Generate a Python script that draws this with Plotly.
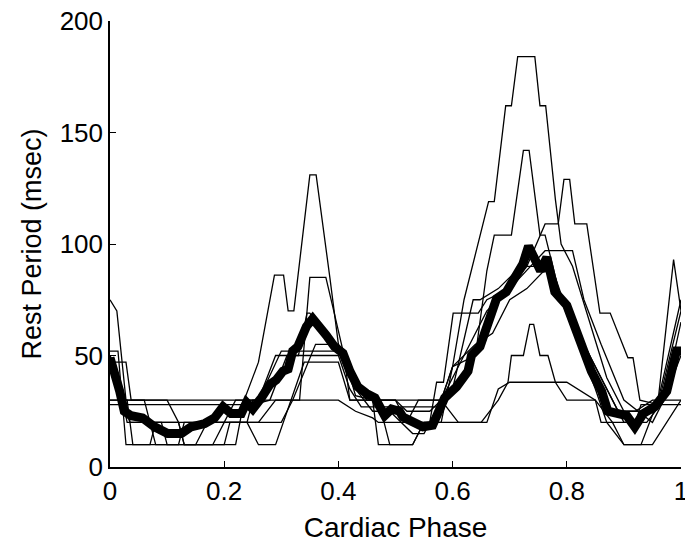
import plotly.graph_objects as go

# ---- data ----
x_ticks = [0, 0.2, 0.4, 0.6, 0.8, 1.0]
x_tick_labels = ["0", "0.2", "0.4", "0.6", "0.8", "1"]
y_ticks = [0, 50, 100, 150, 200]
y_tick_labels = ["0", "50", "100", "150", "200"]

l1_x = [0, 0.012, 0.028, 0.06, 0.07, 0.12, 0.13, 0.22, 0.235, 0.26, 0.288, 0.304, 0.312, 0.322, 0.35, 0.361, 0.385, 0.40, 0.41, 0.43, 0.46, 0.50, 0.52, 0.56, 0.58, 0.60, 0.62, 0.663, 0.673, 0.693, 0.703, 0.714, 0.744, 0.753, 0.763, 0.78, 0.79, 0.81, 0.84, 0.87, 0.90, 0.93, 0.96, 0.987, 1.0]
l1_y = [75, 70, 30, 30, 20, 20, 10, 10, 30, 47, 86, 86, 70, 70, 131, 131, 85, 55, 50, 32, 30, 30, 25, 25, 30, 45, 75, 119, 119, 162, 162, 184, 184, 162, 162, 120, 100, 90, 65, 40, 25, 25, 30, 93, 70]

l2_x = [0, 0.014, 0.028, 0.07, 0.08, 0.12, 0.13, 0.2, 0.21, 0.26, 0.29, 0.332, 0.35, 0.378, 0.39, 0.41, 0.42, 0.47, 0.49, 0.53, 0.55, 0.58, 0.60, 0.64, 0.66, 0.673, 0.703, 0.724, 0.734, 0.753, 0.762, 0.79, 0.82, 0.85, 0.87, 0.90, 0.93, 0.96, 1.0]
l2_y = [52, 52, 10, 10, 20, 20, 10, 10, 20, 20, 30, 30, 85, 85, 72, 50, 30, 30, 10, 10, 20, 20, 45, 50, 88, 104, 104, 142, 142, 104, 104, 75, 55, 35, 20, 10, 10, 30, 75]

l3_x = [0, 0.028, 0.037, 0.10, 0.12, 0.20, 0.22, 0.26, 0.29, 0.33, 0.345, 0.35, 0.375, 0.39, 0.41, 0.44, 0.47, 0.50, 0.52, 0.56, 0.572, 0.584, 0.601, 0.645, 0.66, 0.70, 0.73, 0.762, 0.785, 0.795, 0.805, 0.814, 0.835, 0.858, 0.876, 0.907, 0.916, 0.928, 0.96, 1.0]
l3_y = [47, 47, 30, 30, 20, 20, 30, 30, 50, 50, 69, 69, 60, 55, 50, 35, 30, 30, 20, 20, 38, 38, 69, 69, 75, 80, 90, 109, 109, 129, 129, 109, 109, 69, 69, 49, 49, 30, 28, 70]

l4_x = [0, 0.04, 0.24, 0.26, 0.30, 0.40, 0.42, 0.45, 0.55, 0.58, 0.62, 0.66, 0.70, 0.762, 0.81, 0.83, 0.86, 0.90, 0.95, 0.97, 1.0]
l4_y = [30, 30, 30, 30, 52, 52, 40, 30, 30, 30, 50, 70, 80, 97, 97, 75, 55, 30, 20, 30, 50]

l5_x = [0, 0.05, 0.18, 0.20, 0.25, 0.28, 0.31, 0.40, 0.42, 0.44, 0.50, 0.55, 0.58, 0.60, 0.636, 0.648, 0.68, 0.72, 0.76, 0.78, 0.80, 0.83, 0.86, 0.89, 0.92, 0.95, 1.0]
l5_y = [28, 28, 28, 28, 28, 30, 50, 50, 35, 27, 27, 27, 27, 35, 75, 75, 80, 90, 90, 80, 70, 55, 40, 25, 25, 30, 30]

l6_x = [0, 0.01, 0.03, 0.07, 0.08, 0.15, 0.17, 0.24, 0.26, 0.29, 0.34, 0.36, 0.40, 0.42, 0.46, 0.47, 0.53, 0.55, 0.60, 0.65, 0.68, 0.697, 0.703, 0.724, 0.735, 0.742, 0.753, 0.767, 0.78, 0.80, 0.85, 0.88, 0.9, 0.95, 1.0]
l6_y = [50, 45, 20, 20, 10, 10, 20, 20, 10, 10, 47, 47, 47, 30, 30, 10, 10, 20, 20, 20, 30, 38, 50, 50, 64, 64, 50, 50, 38, 30, 30, 20, 10, 10, 30]

l7_x = [0, 0.03, 0.04, 0.12, 0.13, 0.24, 0.25, 0.40, 0.43, 0.46, 0.47, 0.52, 0.54, 0.58, 0.61, 0.66, 0.68, 0.70, 0.80, 0.85, 0.86, 0.92, 0.93, 1.0]
l7_y = [30, 30, 10, 10, 20, 20, 30, 30, 25, 22, 20, 20, 30, 30, 20, 20, 35, 38, 38, 30, 20, 20, 28, 28]

l8_x = [0, 0.02, 0.035, 0.09, 0.10, 0.18, 0.20, 0.30, 0.32, 0.36, 0.40, 0.43, 0.46, 0.49, 0.53, 0.55, 0.58, 0.6, 0.64, 0.67, 0.70, 0.73, 0.76, 0.78, 0.80, 0.82, 0.85, 0.88, 0.90, 0.94, 0.97, 1.0]
l8_y = [50, 30, 20, 20, 10, 10, 20, 20, 30, 55, 55, 35, 25, 25, 15, 15, 30, 45, 55, 60, 75, 80, 88, 85, 70, 60, 45, 30, 20, 20, 30, 65]

mean_x = [0, 0.005, 0.017, 0.025, 0.037, 0.057, 0.078, 0.101, 0.125, 0.142, 0.166, 0.183, 0.198, 0.212, 0.23, 0.239, 0.25, 0.265, 0.28, 0.291, 0.303, 0.312, 0.32, 0.329, 0.344, 0.355, 0.364, 0.379, 0.393, 0.408, 0.42, 0.434, 0.449, 0.464, 0.481, 0.493, 0.507, 0.513, 0.548, 0.565, 0.586, 0.607, 0.627, 0.633, 0.648, 0.665, 0.677, 0.694, 0.723, 0.733, 0.754, 0.765, 0.779, 0.80, 0.823, 0.843, 0.861, 0.872, 0.905, 0.919, 0.934, 0.954, 0.975, 0.992, 1.0]
mean_y = [49, 45, 34, 25, 23, 22, 18, 15, 15, 18, 19.5, 22, 27, 24, 24, 29, 26, 31, 37, 39, 43, 44, 52, 54, 63, 66.5, 64, 59, 54, 51, 43, 36, 33, 31, 23, 26, 25, 22.4, 18, 18.7, 31, 36, 43, 50, 54, 67, 75.5, 78.5, 91, 99, 88, 94, 78.5, 72.5, 57, 43, 34, 25, 23, 18, 24, 27, 34, 52, 52]

thin_series = [(l1_x, l1_y), (l2_x, l2_y), (l3_x, l3_y), (l4_x, l4_y),
               (l5_x, l5_y), (l6_x, l6_y), (l7_x, l7_y), (l8_x, l8_y)]

fig = go.Figure()
for xs, ys in thin_series:
    fig.add_trace(go.Scatter(x=xs, y=ys, mode="lines",
                             line=dict(color="black", width=1.3),
                             showlegend=False, hoverinfo="skip"))
fig.add_trace(go.Scatter(x=mean_x, y=mean_y, mode="lines",
                         line=dict(color="black", width=9),
                         showlegend=False, hoverinfo="skip"))

FONT = "Liberation Sans, Arial, Helvetica, sans-serif"
fig.update_layout(
    width=685, height=546,
    margin=dict(l=110, r=4, t=21, b=79, pad=0, autoexpand=False),
    paper_bgcolor="white", plot_bgcolor="white",
    font=dict(family=FONT, size=26, color="black"),
    showlegend=False,
    xaxis=dict(range=[0, 1], tickvals=x_ticks, ticktext=x_tick_labels,
               ticks="inside", ticklen=6, tickwidth=1, tickcolor="black",
               showline=True, linecolor="black", linewidth=1.5,
               showgrid=False, zeroline=False, mirror=False,
               automargin=False, ticklabeloverflow="allow",
               tickfont=dict(size=26),
               title=dict(text="Cardiac Phase", font=dict(size=28), standoff=12)),
    yaxis=dict(range=[0, 200], tickvals=y_ticks, ticktext=y_tick_labels,
               ticks="inside", ticklen=6, tickwidth=1, tickcolor="black",
               showline=True, linecolor="black", linewidth=1.5,
               showgrid=False, zeroline=False, mirror=False,
               automargin=False, ticklabeloverflow="allow",
               tickfont=dict(size=26),
               title=dict(text="Rest Period (msec)", font=dict(size=27), standoff=10)),
)

fig.write_html("out.html")
